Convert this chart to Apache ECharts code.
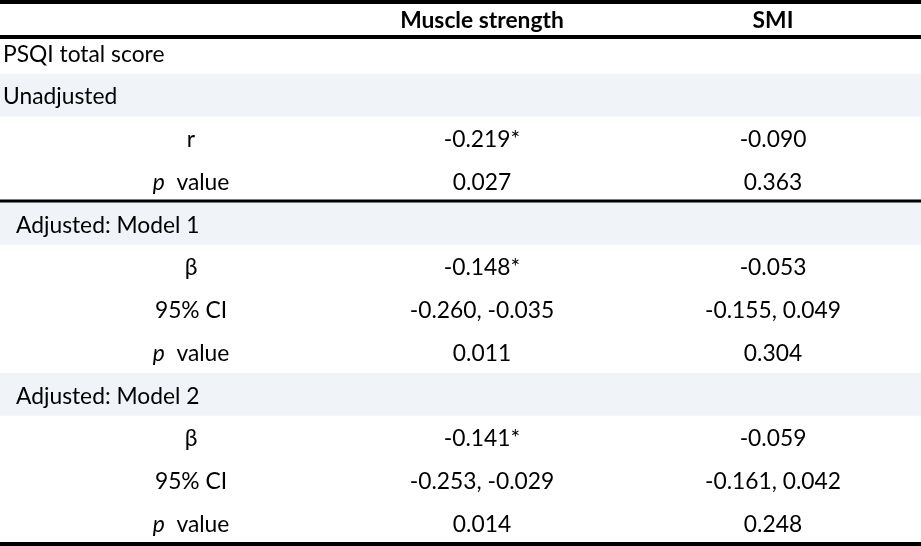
<!DOCTYPE html>
<html>
<head>
<meta charset="utf-8">
<script src="https://cdn.jsdelivr.net/npm/echarts@6/dist/echarts.min.js"></script>
<style>
html,body{margin:0;padding:0;background:#ffffff;}
#chart{width:921px;height:546px;}
</style>
</head>
<body>
<div id="chart"></div>
<script>
// ---------- DATA ----------
const columnHeaders = ['Muscle strength', 'SMI'];
const rowLabels = ['PSQI total score', 'Unadjusted', 'r', 'p value',
  'Adjusted: Model 1', 'β', '95% CI', 'p value',
  'Adjusted: Model 2', 'β', '95% CI', 'p value'];
const rowKinds = ['title', 'section', 'stat', 'pvalue',
  'section2', 'stat', 'stat', 'pvalue',
  'section2', 'stat', 'stat', 'pvalue'];
const muscleStrength = ['', '', '-0.219*', '0.027',
  '', '-0.148*', '-0.260, -0.035', '0.011',
  '', '-0.141*', '-0.253, -0.029', '0.014'];
const smi = ['', '', '-0.090', '0.363',
  '', '-0.053', '-0.155, 0.049', '0.304',
  '', '-0.059', '-0.161, 0.042', '0.248'];
const ruleBeforeRows = [4];

// ---------- LAYOUT / STYLE ----------
const FONT = 'Lato';
const FS = 22.8;
const BAND = '#F0F4F9';
const TOP_RULE_Y = 2, HEADER_RULE_Y = 37, BOTTOM_RULE_Y = 544;

const xCats = ['stub'].concat(columnHeaders);
const yCats = rowLabels.map((_, i) => i);

const cells = [];
rowLabels.forEach((lab, i) => {
  cells.push({ value: [0, i], text: lab, kind: rowKinds[i] });
  cells.push({ value: [1, i], text: muscleStrength[i], kind: 'value' });
  cells.push({ value: [2, i], text: smi[i], kind: 'value' });
});
const headerCells = columnHeaders.map((h, j) => ({ value: [j + 1, 0], text: h }));
const bandRows = rowKinds.map((k, i) => (k === 'section' || k === 'section2') ? { value: [0, i] } : null).filter(Boolean);

function textEl(x, y, text, opts) {
  const o = opts || {};
  const style = {
    text: text, x: x, y: y, fill: '#000',
    fontFamily: FONT, fontSize: FS, fontWeight: o.bold ? 'bold' : 'normal',
    align: o.align || 'center', verticalAlign: 'middle'
  };
  if (o.rich) style.rich = o.rich;
  return { type: 'text', style: style };
}

const chart = echarts.init(document.getElementById('chart'), null, { renderer: 'canvas' });
chart.setOption({
  animation: false,
  backgroundColor: '#ffffff',
  grid: { left: 45.5, width: 873, top: 33, bottom: -2, containLabel: false },
  xAxis: { type: 'category', data: xCats, show: false },
  yAxis: { type: 'category', data: yCats, inverse: true, show: false },
  series: [
    { // section bands
      type: 'custom', z: 1, silent: true,
      data: bandRows,
      renderItem: function (params, api) {
        const c = api.coord([0, api.value(1)]);
        const h = api.size([0, 1])[1];
        return { type: 'rect', shape: { x: 0, y: c[1] - h / 2 - 2, width: api.getWidth(), height: h }, style: { fill: BAND } };
      }
    },
    { // rules
      type: 'custom', z: 2, silent: true,
      data: [{ value: [0, 0] }],
      renderItem: function (params, api) {
        const W = api.getWidth();
        const h = api.size([0, 1])[1];
        const children = [
          { type: 'rect', shape: { x: 0, y: TOP_RULE_Y - 2, width: W, height: 4 }, style: { fill: '#000' } },
          { type: 'rect', shape: { x: 0, y: HEADER_RULE_Y - 2, width: W, height: 4 }, style: { fill: '#000' } },
          { type: 'rect', shape: { x: 0, y: BOTTOM_RULE_Y - 2, width: W, height: 4 }, style: { fill: '#000' } }
        ];
        ruleBeforeRows.forEach(r => {
          const y = api.coord([0, r])[1] - h / 2 - 3;
          children.push({ type: 'rect', shape: { x: 0, y: y - 1.5, width: W, height: 3 }, style: { fill: '#000' } });
        });
        return { type: 'group', children: children };
      }
    },
    { // column headers
      type: 'custom', z: 3, silent: true,
      data: headerCells,
      renderItem: function (params, api) {
        const c = api.coord([api.value(0), 0]);
        return textEl(c[0], (TOP_RULE_Y + HEADER_RULE_Y) / 2 + 1, headerCells[params.dataIndex].text, { bold: true });
      }
    },
    { // cells
      type: 'custom', z: 3, silent: true,
      data: cells,
      renderItem: function (params, api) {
        const cell = cells[params.dataIndex];
        if (!cell.text) return null;
        const c = api.coord([api.value(0), api.value(1)]);
        if (cell.kind === 'title' || cell.kind === 'section') {
          return textEl(3, c[1], cell.text, { align: 'left' });
        }
        if (cell.kind === 'section2') {
          return textEl(16, c[1], cell.text, { align: 'left' });
        }
        if (cell.kind === 'pvalue') {
          return textEl(c[0], c[1], '{i|p}  value', {
            rich: { i: { fontStyle: 'italic', fontFamily: FONT, fontSize: FS, fill: '#000' } }
          });
        }
        return textEl(c[0], c[1], cell.text);
      }
    }
  ]
});
</script>
</body>
</html>
